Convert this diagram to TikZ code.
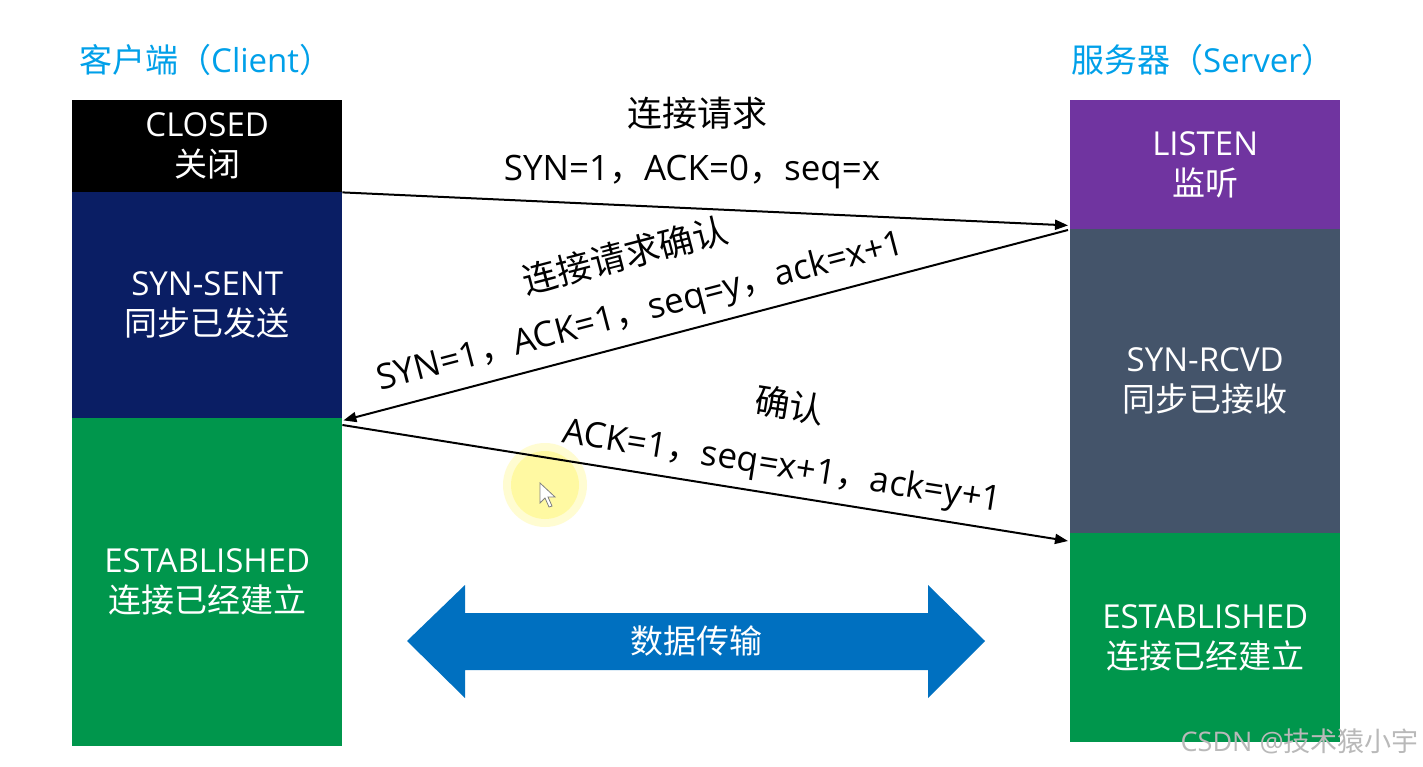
\documentclass[tikz,border=0pt]{standalone}
\usepackage{fontspec}
\setmainfont{Open Sans}
\newfontfamily\cjk{Noto Sans CJK SC}
\usetikzlibrary{arrows.meta,calc}
\definecolor{cTitle}{RGB}{0,160,233}
\definecolor{cNavy}{RGB}{10,30,100}
\definecolor{cGreen}{RGB}{0,150,76}
\definecolor{cPurple}{RGB}{112,52,160}
\definecolor{cSlate}{RGB}{68,84,106}
\definecolor{cBlue}{RGB}{0,112,192}
\begin{document}
\begin{tikzpicture}[x=1pt,y=-1pt,
  txt/.style={font=\fontsize{33}{40}\selectfont, inner sep=0pt},
  statebox/.style={txt, anchor=north west, minimum width=270pt, minimum height=#1, text=white, align=center},
  msg/.style={draw=black, line width=2pt, -{Triangle[length=13pt,width=10pt]}},
  lbl/.style={font=\fontsize{35}{40}\selectfont, inner sep=0pt},
  ttl/.style={font=\fontsize{33}{38}\selectfont, inner sep=0pt, text=cTitle, anchor=west}
]
\useasboundingbox (0,0) rectangle (1423,767);
\fill[white] (0,0) rectangle (1423,767);

% titles
\node[ttl] (tc) at (79,60) {{\cjk 客户端（}Client{\cjk ）}};
\node[ttl] (ts) at (1071,60) {{\cjk 服务器（}Server{\cjk ）}};

% client states
\node[statebox=92pt, fill=black] (closed) at (72,100) {CLOSED\\{\cjk 关闭}};
\node[statebox=226pt, fill=cNavy] (synsent) at (72,192) {SYN-SENT\\{\cjk 同步已发送}};
\node[statebox=328pt, fill=cGreen] (estL) at (72,418) {ESTABLISHED\\{\cjk 连接已经建立}};

% server states
\node[statebox=129pt, fill=cPurple] (listen) at (1070,100) {LISTEN\\{\cjk 监听}};
\node[statebox=304pt, fill=cSlate] (rcvd) at (1070,229) {SYN-RCVD\\{\cjk 同步已接收}};
\node[statebox=209pt, fill=cGreen] (estR) at (1070,533) {ESTABLISHED\\{\cjk 连接已经建立}};

% cursor highlight
\fill[yellow!50!white, opacity=0.35] (545,485) circle (42pt);
\fill[yellow!55!white, opacity=0.5] (545,485) circle (34pt);
\filldraw[fill=white, draw=gray, line width=0.8pt] (540,483) -- (540,503) -- (545,498) -- (549,507) -- (552,506) -- (548,497) -- (555,497) -- cycle;

% messages
\draw[msg] (closed.south east) -- ($(listen.south west)+(-2,-4)$);
\draw[msg] ($(rcvd.north west)+(-2,1)$) -- ($(synsent.south east)+(1,2)$);
\draw[msg] ($(estL.north east)+(0,7)$) -- ($(estR.north west)+(-2,8)$);

% labels
\node[lbl, anchor=base] (l1a) at (697,127) {{\cjk 连接请求}};
\node[lbl, anchor=base] (l1b) at (692,181) {SYN=1{\cjk ，}ACK=0{\cjk ，}seq=x};
\node[lbl, rotate=14.67] (l2a) at (625,255) {{\cjk 连接请求确认}};
\node[lbl, rotate=14.67] (l2b) at (641,313) {SYN=1{\cjk ，}ACK=1{\cjk ，}seq=y{\cjk ，}ack=x+1};
\node[lbl, rotate=-9] (l3a) at (790,405) {{\cjk 确认}};
\node[lbl, rotate=-9] (l3b) at (782,468) {ACK=1{\cjk ，}seq=x+1{\cjk ，}ack=y+1};

% data transfer double arrow
\fill[cBlue] (407,641) -- (465,585) -- (465,613) -- (928,613) -- (928,585) -- (985,641)
  -- (928,698) -- (928,670) -- (465,670) -- (465,698) -- cycle;
\node[txt, text=white] (data) at (696,641) {{\cjk 数据传输}};

% watermark
\node[anchor=east, inner sep=0pt, font=\fontsize{27}{30}\selectfont, text=gray!55] (wm) at (1419,741) {CSDN @{\cjk 技术猿小宇}};
\end{tikzpicture}
\end{document}
